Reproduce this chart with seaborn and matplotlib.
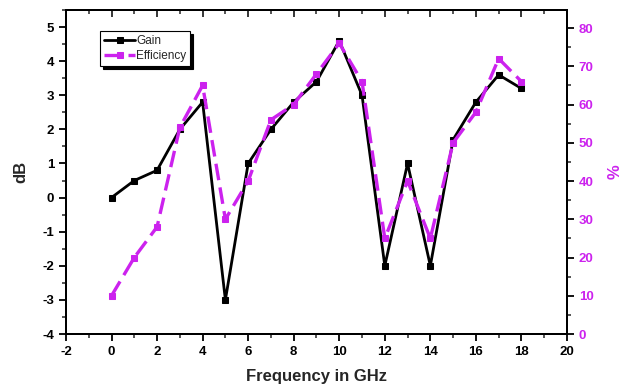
import matplotlib
matplotlib.use("Agg")
import matplotlib.pyplot as plt
from matplotlib.ticker import MultipleLocator
import seaborn as sns
import pandas as pd

sns.set_theme(style="white")
plt.rcParams["font.family"] = ["Liberation Sans", "DejaVu Sans"]
plt.rcParams["axes.unicode_minus"] = False

freq_ghz = [0, 1, 2, 3, 4, 5, 6, 7, 8, 9, 10, 11, 12, 13, 14, 15, 16, 17, 18]
gain_db = [0.0, 0.5, 0.8, 2.0, 2.8, -3.0, 1.0, 2.0, 2.8, 3.4, 4.6, 3.0, -2.0, 1.0, -2.0, 1.7, 2.8, 3.6, 3.2]
efficiency_pct = [10, 20, 28, 54, 65, 30, 40, 56, 60, 68, 76, 66, 25, 40, 25, 50, 58, 72, 66]

x_ticks = [-2, 0, 2, 4, 6, 8, 10, 12, 14, 16, 18, 20]
left_ticks = [-4, -3, -2, -1, 0, 1, 2, 3, 4, 5]
right_ticks = [0, 10, 20, 30, 40, 50, 60, 70, 80]

magenta = "#CC22EE"

df = pd.DataFrame({"freq": freq_ghz, "gain": gain_db, "eff": efficiency_pct})

fig = plt.figure(figsize=(6.38, 3.86), dpi=100)
ax = fig.add_axes([0.1034, 0.1347, 0.7853, 0.8393])
ax2 = ax.twinx()

sns.lineplot(data=df, x="freq", y="gain", ax=ax, color="black", linewidth=2.0,
             marker="s", markersize=4.6, markeredgecolor="black", label="Gain", legend=False)
sns.lineplot(data=df, x="freq", y="eff", ax=ax2, color=magenta, linewidth=2.4,
             marker="s", markersize=4.6, markeredgecolor=magenta, label="Efficiency", legend=False)
ax2.lines[0].set_dashes((5, 2.2))

ax.set_xlim(-2, 20)
ax.set_ylim(-4, 5.5)
ax2.set_ylim(0, 84.7)
ax.set_xticks(x_ticks)
ax.set_yticks(left_ticks)
ax2.set_yticks(right_ticks)
ax.xaxis.set_minor_locator(MultipleLocator(1))
ax.yaxis.set_minor_locator(MultipleLocator(0.5))
ax2.yaxis.set_minor_locator(MultipleLocator(5))

for a in (ax, ax2):
    for s in a.spines.values():
        s.set_linewidth(1.4)
        s.set_color("black")

ax.tick_params(axis="both", which="major", direction="out", length=5, width=1.3,
               labelsize=9.5, colors="black", bottom=True, left=True, top=False)
ax.tick_params(axis="both", which="minor", direction="out", length=3, width=1.1,
               bottom=True, left=True, top=False)
ax2.tick_params(axis="y", which="major", direction="out", length=5, width=1.3,
                labelsize=9.5, labelcolor=magenta, color="black", right=True)
ax2.tick_params(axis="y", which="minor", direction="out", length=3, width=1.1, right=True)

# top ticks point inward
sec = ax.secondary_xaxis("top")
sec.set_xticks(x_ticks)
sec.xaxis.set_minor_locator(MultipleLocator(1))
sec.tick_params(which="major", direction="in", length=5, width=1.3, labeltop=False)
sec.tick_params(which="minor", direction="in", length=3, width=1.1)
sec.spines["top"].set_linewidth(1.4)

for lbl in ax.get_xticklabels() + ax.get_yticklabels():
    lbl.set_fontweight("bold")
for lbl in ax2.get_yticklabels():
    lbl.set_fontweight("bold")

ax.set_xlabel("Frequency in GHz", fontsize=12, fontweight="bold", labelpad=8)
ax.set_ylabel("dB", fontsize=12, fontweight="bold", labelpad=10)
ax2.set_ylabel("%", fontsize=12, fontweight="bold", color=magenta, labelpad=10)

handles = ax.get_lines()[:1] + ax2.get_lines()[:1]
leg = ax.legend(handles, ["Gain", "Efficiency"], loc="upper left",
                bbox_to_anchor=(0.068, 0.935), fontsize=8.5, frameon=True,
                fancybox=False, shadow={"color": "black", "alpha": 1.0},
                edgecolor="black", handlelength=2.6, handletextpad=0.1,
                borderpad=0.35, labelspacing=0.25, borderaxespad=0)
leg.get_frame().set_linewidth(0.8)
leg.set_zorder(10)

fig.savefig("out.png", dpi=100)
